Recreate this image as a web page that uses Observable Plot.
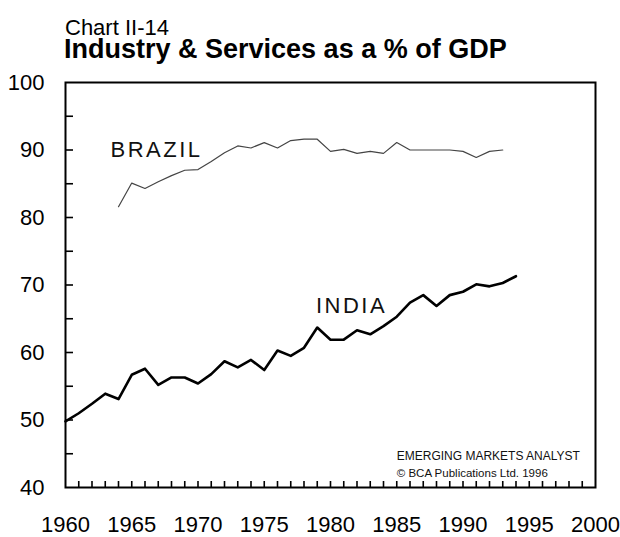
<!DOCTYPE html>
<html><head><meta charset="utf-8">
<script src="https://cdn.jsdelivr.net/npm/d3@7"></script>
<script src="https://cdn.jsdelivr.net/npm/@observablehq/plot@0.6"></script>
<style>
body{margin:0;background:#fff;font-family:"Liberation Sans",Arial,sans-serif;color:#000;}
#wrap{position:relative;width:620px;height:537px;overflow:hidden;}
#header{position:relative;height:66px;}
.t1{position:absolute;left:65px;top:18.1px;font-size:22px;line-height:0.9;white-space:nowrap;}
.t2{position:absolute;left:64px;top:38.1px;font-size:27px;font-weight:bold;line-height:0.85;white-space:nowrap;}
#chart svg{display:block;overflow:visible;}
</style></head><body>
<div id="wrap">
  <div id="header">
    <div class="t1">Chart II-14</div>
    <div class="t2">Industry &amp; Services as a % of GDP</div>
  </div>
  <div id="chart"></div>
</div>
<script>
// ---- data ----
const indiaYears = [1960,1961,1962,1963,1964,1965,1966,1967,1968,1969,1970,1971,1972,1973,1974,1975,1976,1977,1978,1979,1980,1981,1982,1983,1984,1985,1986,1987,1988,1989,1990,1991,1992,1993,1994];
const indiaValues = [49.8,51.0,52.4,53.9,53.1,56.7,57.6,55.2,56.3,56.3,55.4,56.8,58.7,57.8,58.9,57.4,60.3,59.5,60.7,63.7,61.9,61.9,63.3,62.7,63.9,65.3,67.4,68.5,66.9,68.5,69.0,70.1,69.8,70.3,71.3];
const brazilYears = [1964,1965,1966,1967,1968,1969,1970,1971,1972,1973,1974,1975,1976,1977,1978,1979,1980,1981,1982,1983,1984,1985,1986,1987,1988,1989,1990,1991,1992,1993];
const brazilValues = [81.6,85.1,84.3,85.3,86.2,87.0,87.1,88.3,89.6,90.6,90.3,91.1,90.3,91.4,91.6,91.6,89.8,90.1,89.5,89.8,89.5,91.1,90.0,90.0,90.0,90.0,89.8,88.9,89.8,90.0];
const xTickLabels = [1960,1965,1970,1975,1980,1985,1990,1995,2000];
const yTickLabels = [40,50,60,70,80,90,100];
const xMinorTicks = d3.range(1961, 2000);
const yMinorTicks = [45,50,55,60,65,70,75,80,85,90,95];
const seriesNames = ["BRAZIL","INDIA"];
const sourceLines = ["EMERGING MARKETS ANALYST","© BCA Publications Ltd. 1996"];

// ---- annotation anchors (data coordinates) ----
const labelAnchors = [{x:1963.4, y:89.0}, {x:1978.9, y:65.9}];
const sourceAnchors = [{x:1985.0, y:44.1, size:12}, {x:1985.0, y:41.5, size:11.5}];

const india = indiaYears.map((year,i)=>({year, value:indiaValues[i]}));
const brazil = brazilYears.map((year,i)=>({year, value:brazilValues[i]}));
const labels = seriesNames.map((name,i)=>({name, ...labelAnchors[i]}));
const source = sourceLines.map((text,i)=>({text, ...sourceAnchors[i]}));

const W = 620, H = 471, mT = 16, mB = 50, mL = 65, mR = 25;
const frameW = W - mL - mR, frameH = H - mT - mB;

const chart = Plot.plot({
  width: W, height: H,
  marginTop: mT, marginBottom: mB, marginLeft: mL, marginRight: mR,
  style: {fontFamily: "'Liberation Sans', Arial, sans-serif", background: "white", color: "black", overflow: "visible"},
  x: {domain: [1960, 2000], label: null},
  y: {domain: [40, 100], label: null},
  marks: [
    Plot.tickX(xMinorTicks, {x: d => d, insetTop: frameH - 6, stroke: "black", strokeWidth: 1.6}),
    Plot.tickY(yMinorTicks, {y: d => d, insetRight: frameW - 8, stroke: "black", strokeWidth: 1.6}),
    Plot.axisX(xTickLabels, {anchor: "bottom", tickSize: 0, tickPadding: 29, tickFormat: d => String(d), fontSize: 22, label: null}),
    Plot.axisY(yTickLabels, {anchor: "left", tickSize: 0, tickPadding: 21, tickFormat: d => String(d), fontSize: 22, label: null}),
    Plot.frame({stroke: "black", strokeWidth: 2}),
    Plot.line(brazil, {x: "year", y: "value", stroke: "#444", strokeWidth: 1.2}),
    Plot.line(india, {x: "year", y: "value", stroke: "#000", strokeWidth: 2.6}),
    Plot.text(labels, {x: "x", y: "y", text: "name", textAnchor: "start", lineAnchor: "bottom", fontSize: 22, fill: "#111"}),
    Plot.text(source, {x: "x", y: "y", text: "text", textAnchor: "start", lineAnchor: "bottom", fontSize: d => d.size, fill: "#111"})
  ]
});
document.getElementById("chart").appendChild(chart);
// letter spacing for series labels
chart.querySelectorAll("text").forEach(t => {
  if (seriesNames.includes(t.textContent)) t.setAttribute("letter-spacing", "2.5");
});
</script>
</body></html>
